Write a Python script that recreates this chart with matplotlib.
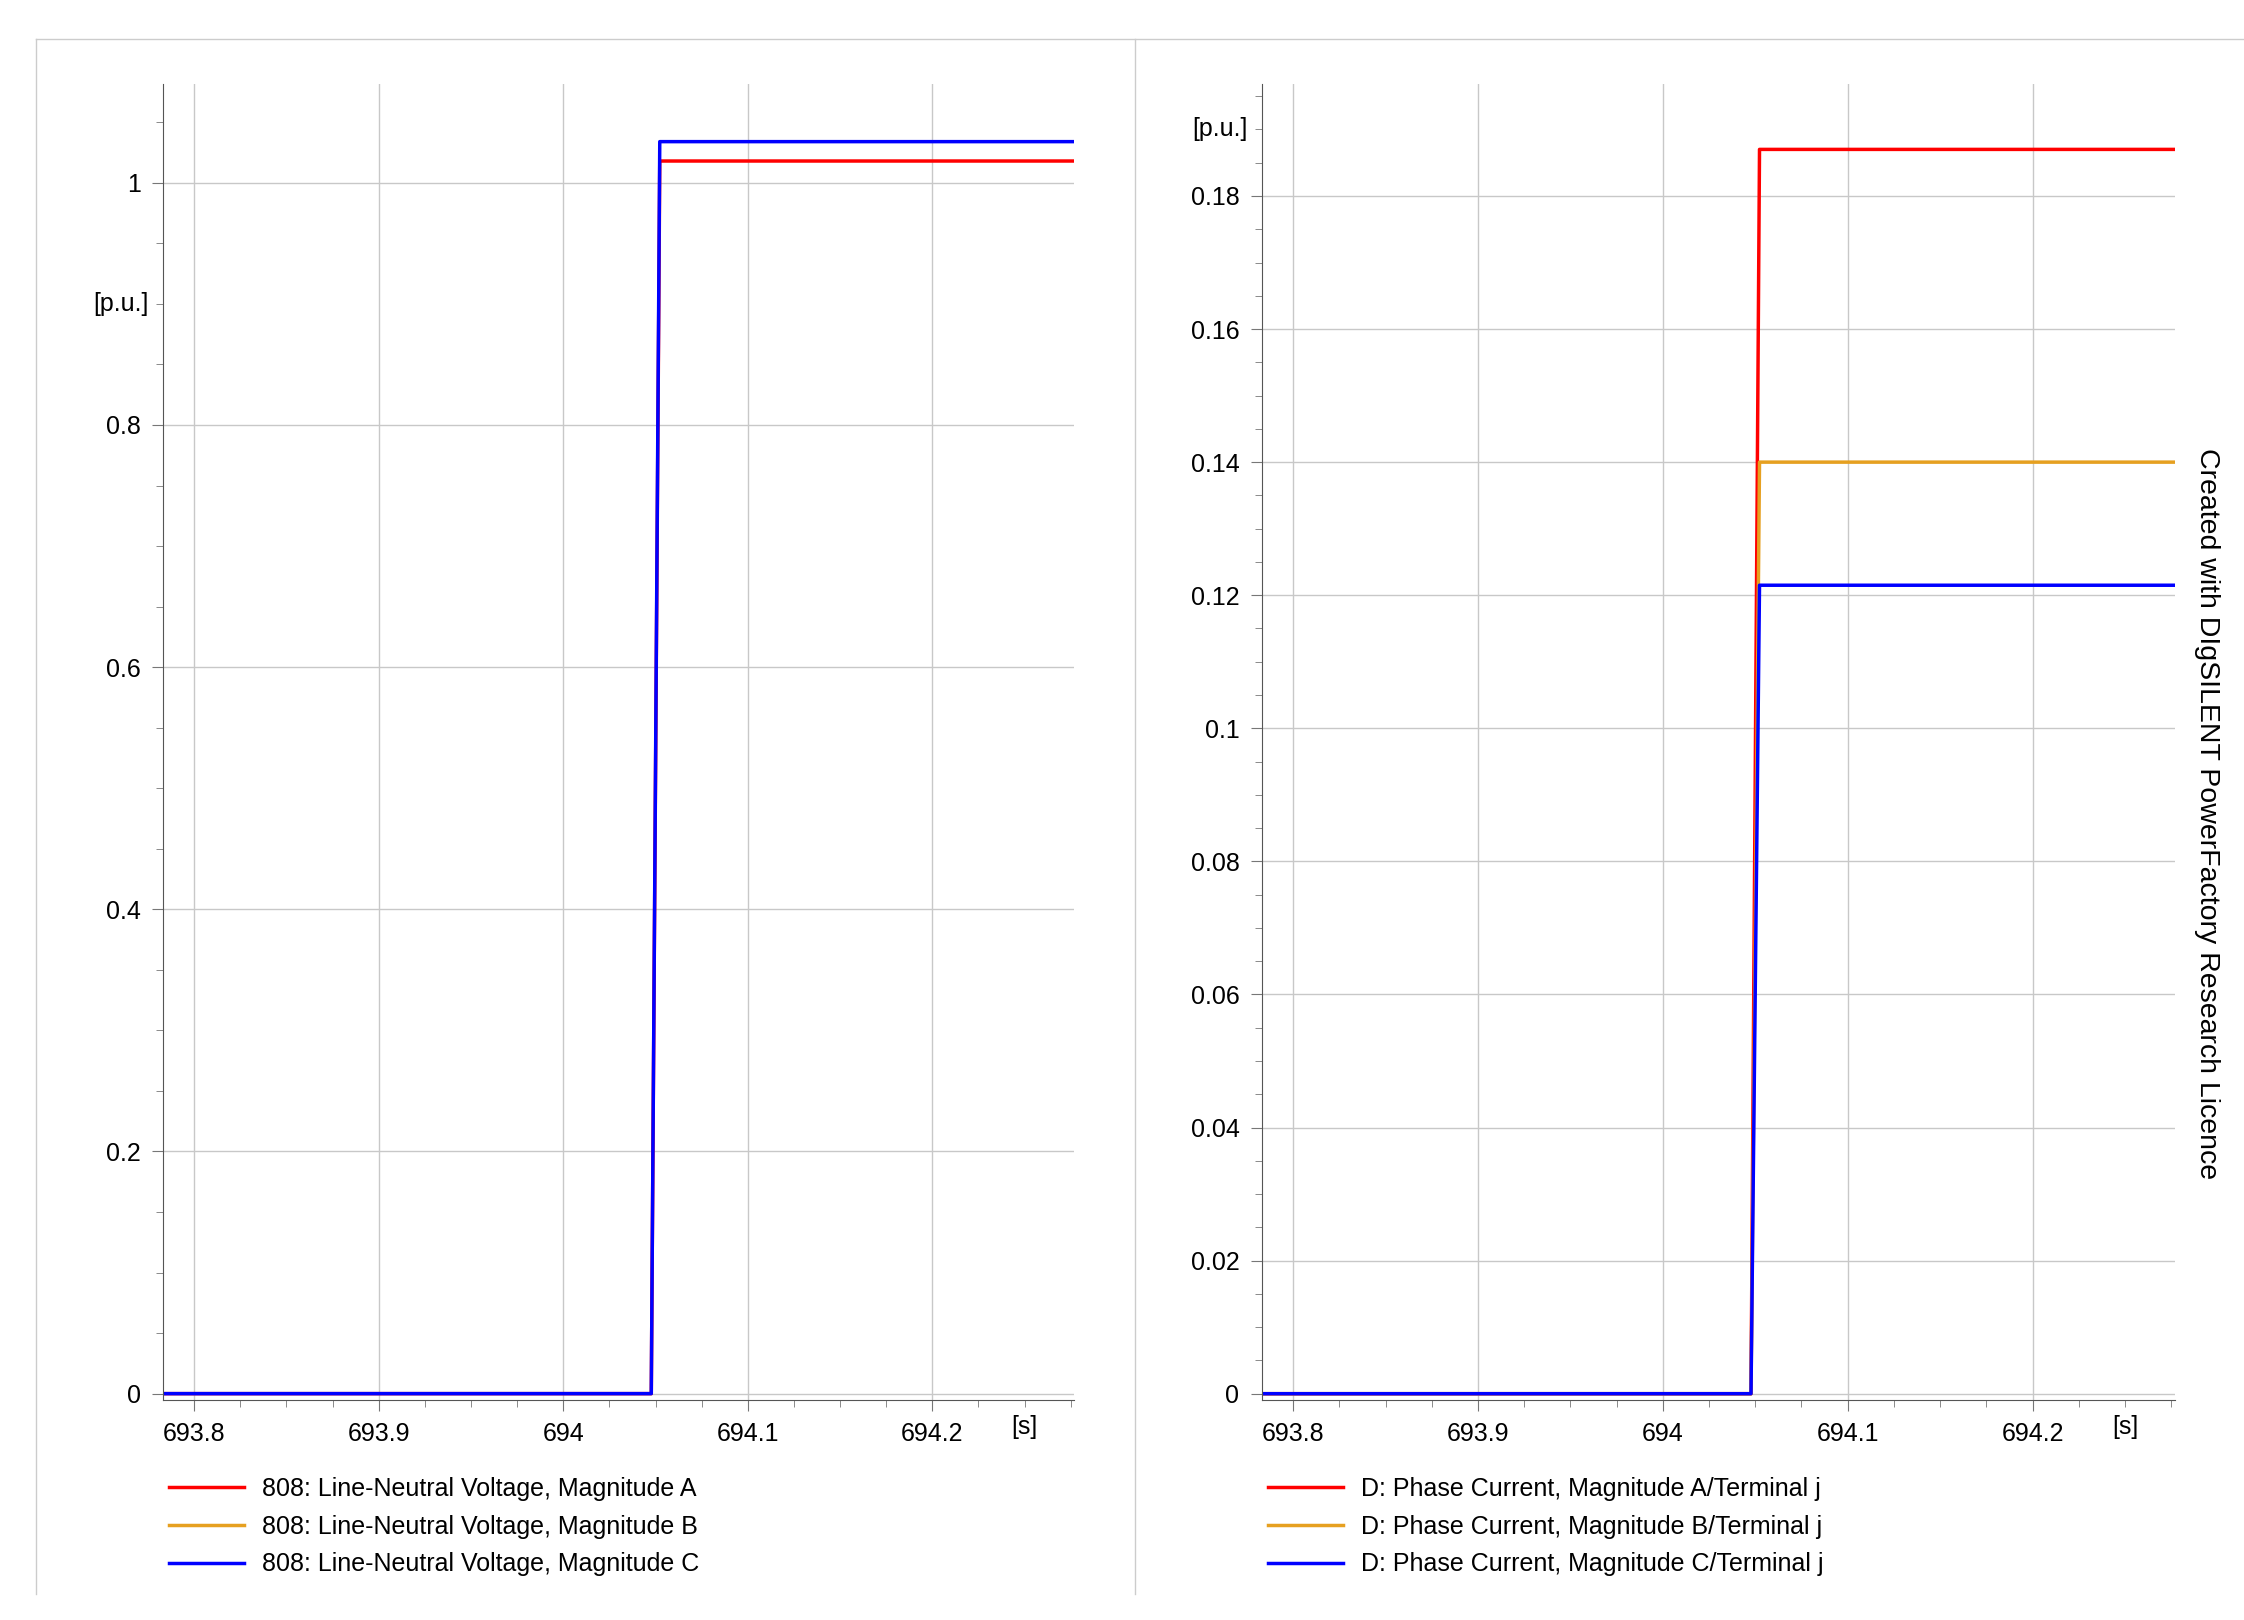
import numpy as np
import matplotlib.pyplot as plt
from matplotlib.ticker import MultipleLocator

# step data (time in s, values in p.u.)
t_left = [693.78, 694.0477, 694.0523, 694.277]
volt_a = [0.0, 0.0, 1.018, 1.018]
volt_c = [0.0, 0.0, 1.034, 1.034]
t_right = [693.78, 694.0477, 694.0523, 694.277]
cur_a = [0.0, 0.0, 0.187, 0.187]
cur_b = [0.0, 0.0, 0.140, 0.140]
cur_c = [0.0, 0.0, 0.1215, 0.1215]

left_labels = ["808: Line-Neutral Voltage, Magnitude A",
               "808: Line-Neutral Voltage, Magnitude B",
               "808: Line-Neutral Voltage, Magnitude C"]
right_labels = ["D: Phase Current, Magnitude A/Terminal j",
                "D: Phase Current, Magnitude B/Terminal j",
                "D: Phase Current, Magnitude C/Terminal j"]
colors = ["#ff0000", "#e6a020", "#0000ff"]

plt.rcParams['font.family'] = ['Arial', 'Liberation Sans', 'DejaVu Sans']
W, H = 1558, 1125
fig = plt.figure(figsize=(22.44, 16.2), dpi=100)


def box(x0, y0, x1, y1):
    return [x0 / W, 1 - y1 / H, (x1 - x0) / W, (y1 - y0) / H]


# frame lines
fig.add_artist(plt.Line2D([25 / W, 25 / W], [1 - 1107 / H, 1 - 27 / H], color='#cccccc', lw=1))
fig.add_artist(plt.Line2D([25 / W, 1], [1 - 27 / H, 1 - 27 / H], color='#cccccc', lw=1))
fig.add_artist(plt.Line2D([788 / W, 788 / W], [1 - 1107 / H, 1 - 27 / H], color='#cccccc', lw=1))


def style(ax, ymin, ymax, major, minor, ulab_y):
    ax.set_xlim(693.783, 694.277)
    ax.set_ylim(ymin, ymax)
    ax.xaxis.set_major_locator(MultipleLocator(0.1))
    ax.xaxis.set_minor_locator(MultipleLocator(0.025))
    ax.yaxis.set_major_locator(MultipleLocator(major))
    ax.yaxis.set_minor_locator(MultipleLocator(minor))
    ax.xaxis.set_major_formatter(lambda v, p: f"{v:g}")
    ax.yaxis.set_major_formatter(lambda v, p: f"{v:g}")
    ax.grid(True, which='major', color='#c8c8c8', lw=1)
    for s in ['top', 'right']:
        ax.spines[s].set_visible(False)
    for s in ['left', 'bottom']:
        ax.spines[s].set_color('#555555')
    ax.tick_params(labelsize=18, length=8, color='#777777', pad=8)
    ax.tick_params(which='minor', length=5, color='#777777')
    ax.text(694.25, -0.012, "[s]", transform=ax.get_xaxis_transform(), fontsize=18,
            ha='center', va='top')
    ax.text(-0.015, ulab_y, "[p.u.]", transform=ax.get_yaxis_transform(), fontsize=18,
            ha='right', va='center')


ax1 = fig.add_axes(box(113, 58, 746, 972))
ax1.plot(t_left, volt_a, color=colors[0], lw=2.5, label=left_labels[0])
ax1.plot([], [], color=colors[1], lw=2.5, label=left_labels[1])
ax1.plot(t_left, volt_c, color=colors[2], lw=2.5, label=left_labels[2])
style(ax1, -0.005, 1.082, 0.2, 0.05, 0.9)

ax2 = fig.add_axes(box(876, 58, 1510, 972))
ax2.plot(t_right, cur_a, color=colors[0], lw=2.5, label=right_labels[0])
ax2.plot(t_right, cur_b, color=colors[1], lw=2.5, label=right_labels[1])
ax2.plot(t_right, cur_c, color=colors[2], lw=2.5, label=right_labels[2])
style(ax2, -0.0009, 0.1969, 0.02, 0.005, 0.19)

for ax, x0 in [(ax1, 102), (ax2, 865)]:
    ax.legend(loc='upper left', bbox_to_anchor=(x0 / W, 1 - 1010 / H), bbox_transform=fig.transFigure,
              frameon=False, fontsize=18, handlelength=3.0, labelspacing=0.55, handletextpad=0.7)

fig.text(1532 / W, 1 - 565 / H, "Created with DIgSILENT PowerFactory Research Licence",
         rotation=270, fontsize=20.5, ha='center', va='center')

fig.savefig("out.png", dpi=100)
